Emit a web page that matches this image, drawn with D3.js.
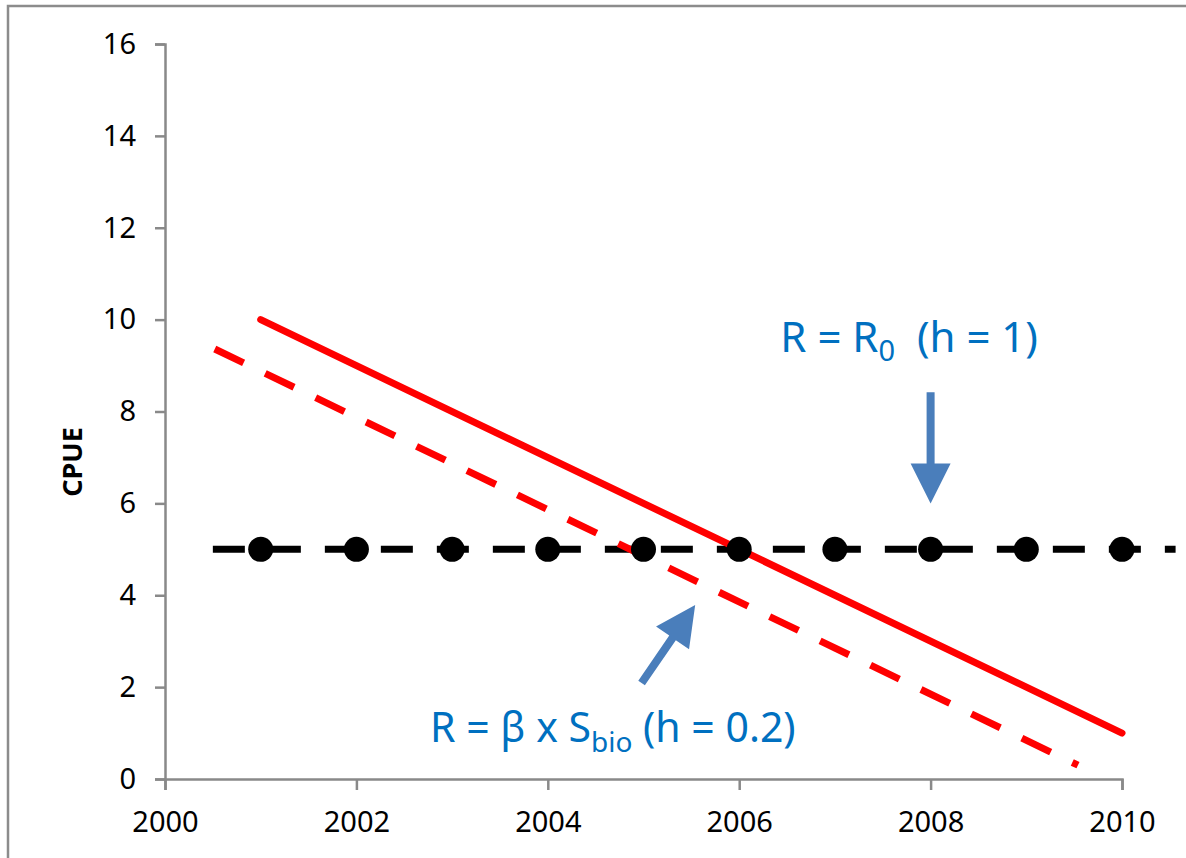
<!DOCTYPE html>
<html>
<head>
<meta charset="utf-8">
<title>CPUE</title>
<script src="https://cdn.jsdelivr.net/npm/d3@7"></script>
<style>
body { margin: 0; background: #fff; }
text { font-family: "Noto Sans", sans-serif; }
</style>
</head>
<body>
<script>
// data
var years = [2001, 2002, 2003, 2004, 2005, 2006, 2007, 2008, 2009, 2010];
var cpue = [5, 5, 5, 5, 5, 5, 5, 5, 5, 5];
var trendYears = [2000.5, 2010.56];
var trendCpue = [5, 5];
var hOneYears = [2001, 2010];
var hOneCpue = [10, 1];
var hLowYears = [2000.52, 2009.54];
var hLowCpue = [9.36, 0.3];
var xTicks = [2000, 2002, 2004, 2006, 2008, 2010];
var yTicks = [0, 2, 4, 6, 8, 10, 12, 14, 16];

var w = 1186, h = 858;
var svg = d3.select("body").append("svg")
    .attr("width", w)
    .attr("height", h);

// outer frame
svg.append("rect")
    .attr("x", 8).attr("y", 6)
    .attr("width", w + 10).attr("height", h + 10)
    .attr("fill", "white")
    .attr("stroke", "#8c8c8c")
    .attr("stroke-width", 2.5);

var x = d3.scaleLinear().domain([2000, 2010]).range([165, 1122]);
var y = d3.scaleLinear().domain([0, 16]).range([779, 44]);

// axes
var xAxis = svg.append("g")
    .attr("transform", "translate(0," + y(0) + ")")
    .call(d3.axisBottom(x).tickValues(xTicks).tickFormat(d3.format("d")).tickSize(11).tickPadding(14));
var yAxis = svg.append("g")
    .attr("transform", "translate(" + x(2000) + ",0)")
    .call(d3.axisLeft(y).tickValues(yTicks).tickSize(10).tickPadding(19));

[xAxis, yAxis].forEach(function(a) {
    a.select(".domain").attr("stroke", "#898989").attr("stroke-width", 2.5);
    a.selectAll(".tick line").attr("stroke", "#898989").attr("stroke-width", 2.5);
    a.selectAll(".tick text")
        .attr("font-family", "Noto Sans")
        .attr("font-size", "29px")
        .attr("fill", "black");
});
xAxis.selectAll(".tick text").attr("dy", "0.95em");

svg.append("text")
    .attr("transform", "translate(82," + y(6.9) + ") rotate(-90)")
    .attr("text-anchor", "middle")
    .attr("font-size", "27px")
    .attr("font-weight", "bold")
    .text("CPUE");

var line = d3.line()
    .x(function(d) { return x(d[0]); })
    .y(function(d) { return y(d[1]); });

// observed trend (black dashed)
svg.append("path")
    .datum(d3.zip(trendYears, trendCpue))
    .attr("d", line)
    .attr("fill", "none")
    .attr("stroke", "black")
    .attr("stroke-width", 7)
    .attr("stroke-dasharray", "32,24");

// h = 1 (solid red)
svg.append("path")
    .datum(d3.zip(hOneYears, hOneCpue))
    .attr("d", line)
    .attr("fill", "none")
    .attr("stroke", "#ff0000")
    .attr("stroke-width", 7)
    .attr("stroke-linecap", "round");

// h = 0.2 (dashed red)
svg.append("path")
    .datum(d3.zip(hLowYears, hLowCpue))
    .attr("d", line)
    .attr("fill", "none")
    .attr("stroke", "#ff0000")
    .attr("stroke-width", 7)
    .attr("stroke-dasharray", "32,24");

svg.selectAll("circle.obs")
    .data(d3.zip(years, cpue))
    .enter()
    .append("circle")
    .attr("class", "obs")
    .attr("cx", function(d) { return x(d[0]); })
    .attr("cy", function(d) { return y(d[1]); })
    .attr("r", 12.5)
    .attr("fill", "black");

// arrows
function arrow(x0, y0, x1, y1) {
    var px0 = x(x0), py0 = y(y0), px1 = x(x1), py1 = y(y1);
    var dx = px1 - px0, dy = py1 - py0;
    var len = Math.sqrt(dx * dx + dy * dy);
    var ux = dx / len, uy = dy / len, nx = -uy, ny = ux;
    var sw = 4, hw = 20, hl = 40;
    var bx = px1 - ux * hl, by = py1 - uy * hl;
    var pts = [
        [px0 + nx * sw, py0 + ny * sw],
        [bx + nx * sw, by + ny * sw],
        [bx + nx * hw, by + ny * hw],
        [px1, py1],
        [bx - nx * hw, by - ny * hw],
        [bx - nx * sw, by - ny * sw],
        [px0 - nx * sw, py0 - ny * sw]
    ];
    svg.append("polygon")
        .attr("points", pts.map(function(p) { return p.join(","); }).join(" "))
        .attr("fill", "#4a7ebb");
}
arrow(2008, 8.42, 2008, 6.0);
arrow(2004.98, 2.09, 2005.54, 3.79);

// labels
var t1 = svg.append("text")
    .attr("x", x(2006.43)).attr("y", y(9.29))
    .attr("font-size", "42px")
    .attr("fill", "#0070c0");
t1.append("tspan").text("R = R");
t1.append("tspan").attr("font-size", "29px").attr("dy", 9).text("0");
t1.append("tspan").attr("dy", -9).text("\u00a0 (h = 1)");

var t2 = svg.append("text")
    .attr("x", x(2002.77)).attr("y", y(0.8))
    .attr("font-size", "41px")
    .attr("fill", "#0070c0");
t2.append("tspan").text("R = \u03b2 x S");
t2.append("tspan").attr("font-size", "28px").attr("dy", 10).text("bio");
t2.append("tspan").attr("dy", -10).text(" (h = 0.2)");
</script>
</body>
</html>
